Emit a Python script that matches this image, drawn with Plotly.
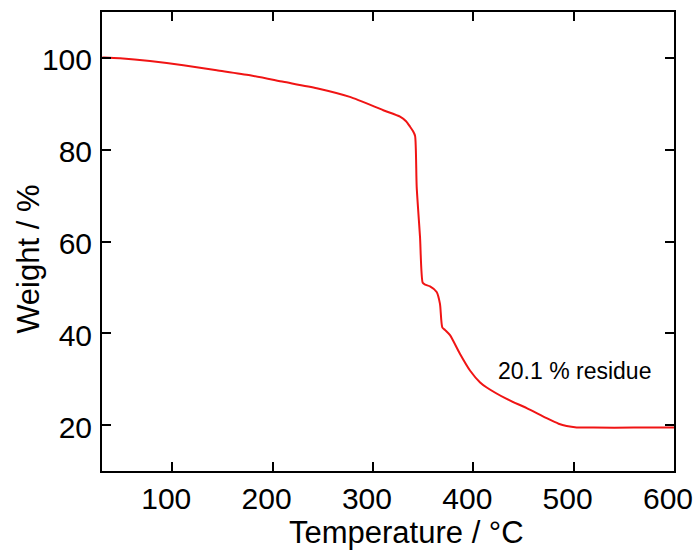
import plotly.graph_objects as go

temperature = [30, 31.3, 47.9, 77.8, 111, 144.3, 177.5, 210.7, 244, 277, 310.3, 327, 333, 337, 340, 342,
               343.6, 346.9, 349.6, 352, 356.9, 363.5, 366.8, 369.1, 372, 376.8, 386.8, 396.7, 406.8,
               413.4, 433.3, 453.2, 473.1, 485, 493, 503, 520, 560, 600]
weight = [100, 100.1, 99.9, 99.3, 98.4, 97.3, 96.2, 94.8, 93.4, 91.5, 88.6, 87.2, 86.2, 85.0, 84.0, 83.0,
          71.9, 61.0, 51.0, 50.6, 50.2, 49.0, 46.4, 41.3, 40.7, 39.6, 35.5, 31.9, 29.3,
          28.2, 25.7, 23.7, 21.5, 20.3, 19.8, 19.5, 19.45, 19.45, 19.45]

x_ticks = [100, 200, 300, 400, 500, 600]
y_ticks = [20, 40, 60, 80, 100]
annotation_text = "20.1 % residue"
x_title = "Temperature / °C"
y_title = "Weight / %"

fig = go.Figure()
fig.add_trace(go.Scatter(x=temperature, y=weight, mode="lines",
                         line=dict(color="#f01414", width=2, shape="spline", smoothing=0.6),
                         showlegend=False, cliponaxis=True))

font = "Liberation Sans, Arial, sans-serif"
fig.add_annotation(x=501, y=31.8, text=annotation_text, showarrow=False,
                   xanchor="center", yanchor="middle",
                   font=dict(family=font, size=23, color="black"))
fig.add_annotation(x=0.533, y=-0.135, xref="paper", yref="paper", text=x_title, showarrow=False,
                   xanchor="center", yanchor="middle",
                   font=dict(family=font, size=31, color="black"))
fig.add_annotation(x=-0.1276, y=0.46, xref="paper", yref="paper", text=y_title, showarrow=False,
                   xanchor="center", yanchor="middle", textangle=-90,
                   font=dict(family=font, size=31, color="black"))

axis_common = dict(showline=True, linecolor="black", linewidth=2, mirror="ticks",
                   ticks="inside", ticklen=9, tickwidth=2, tickcolor="black",
                   showgrid=False, zeroline=False, ticklabeloverflow="allow", automargin=False,
                   tickfont=dict(family=font, size=30, color="black"))

fig.update_xaxes(range=[30, 600.01], tickvals=x_ticks, ticktext=[str(v) for v in x_ticks],
                 ticklabelshift=-6, **axis_common)
fig.update_yaxes(range=[10, 110], tickvals=y_ticks, ticktext=[str(v) for v in y_ticks],
                 ticklabelstandoff=2, ticklabelshift=2, **axis_common)

fig.update_layout(width=696, height=550, margin=dict(l=102, r=22, t=12, b=79),
                  plot_bgcolor="white", paper_bgcolor="white")

fig.write_html("out.html")
